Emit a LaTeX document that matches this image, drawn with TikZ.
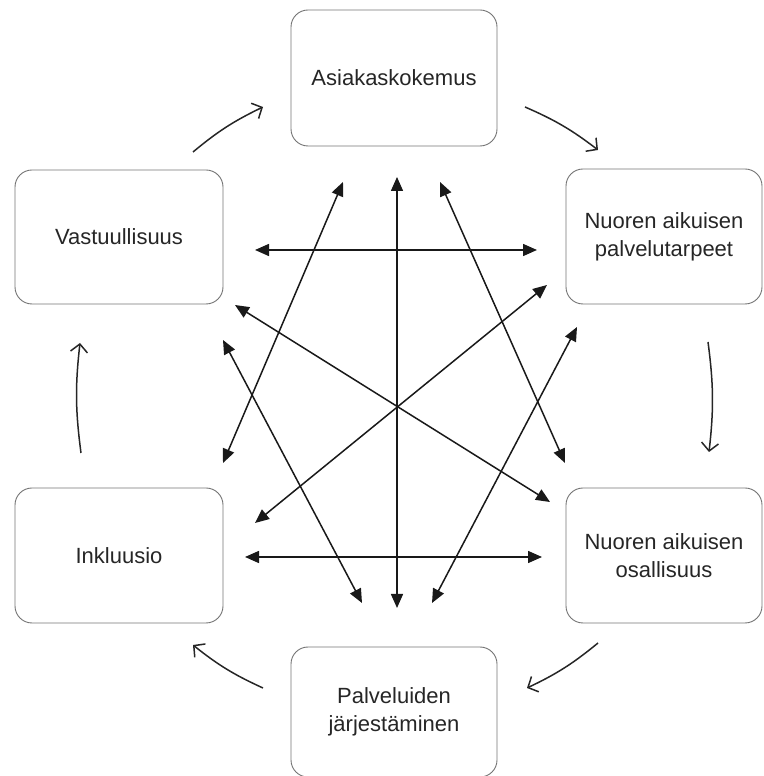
\documentclass[tikz,border=0pt]{standalone}
\usepackage{fontspec}
\setmainfont{Liberation Sans}
\usetikzlibrary{arrows.meta}
\begin{document}
\begin{tikzpicture}[x=1pt,y=1pt,
  boxnode/.style={draw=black!55, line width=0.9pt, rounded corners=17pt,
    align=center, text=black!85, font=\fontsize{22}{28}\selectfont, inner sep=0pt},
  dbl/.style={line width=1.5pt, black!90, {Triangle[length=14pt,width=12pt]}-{Triangle[length=14pt,width=12pt]}},
  cyc/.style={line width=1.5pt, black!85, -{Straight Barb[length=8pt,width=17pt]}, bend left=7}]
\useasboundingbox (0,0) rectangle (763,776);
% boxes
\node[boxnode, minimum width=206pt, minimum height=136pt] (ask) at (394,698) {Asiakaskokemus};
\node[boxnode, minimum width=208pt, minimum height=134pt] (vast) at (119,539) {Vastuullisuus};
\node[boxnode, minimum width=196pt, minimum height=135pt] (npal) at (664,539.5) {Nuoren aikuisen\\palvelutarpeet};
\node[boxnode, minimum width=208pt, minimum height=135pt] (inkl) at (119,220.5) {Inkluusio};
\node[boxnode, minimum width=196pt, minimum height=135pt] (nosa) at (664,220.5) {Nuoren aikuisen\\osallisuus};
\node[boxnode, minimum width=206pt, minimum height=130pt] (palv) at (394,64) {Palveluiden\\järjestäminen};
% endpoints of the double arrows
\coordinate (v1) at (397,599); \coordinate (v2) at (397,168);
\coordinate (h1a) at (255,526); \coordinate (h1b) at (537,526);
\coordinate (h2a) at (245,219); \coordinate (h2b) at (542,219);
\coordinate (d1a) at (235,471); \coordinate (d1b) at (550,274);
\coordinate (d2a) at (547,491); \coordinate (d2b) at (255,253);
\coordinate (s1a) at (343,594); \coordinate (s1b) at (223,313);
\coordinate (s2a) at (440,594); \coordinate (s2b) at (565,313);
\coordinate (s3a) at (223,436); \coordinate (s3b) at (362,173);
\coordinate (s4a) at (577,449); \coordinate (s4b) at (432,173);
\draw[dbl] (v1) -- (v2);
\draw[dbl] (h1a) -- (h1b);
\draw[dbl] (h2a) -- (h2b);
\draw[dbl] (d1a) -- (d1b);
\draw[dbl] (d2a) -- (d2b);
\draw[dbl] (s1a) -- (s1b);
\draw[dbl] (s2a) -- (s2b);
\draw[dbl] (s3a) -- (s3b);
\draw[dbl] (s4a) -- (s4b);
% cycle arrows
\coordinate (c1a) at (193,624); \coordinate (c1b) at (263,669);
\coordinate (c2a) at (525,669); \coordinate (c2b) at (598,626);
\coordinate (c3a) at (708,434); \coordinate (c3b) at (709,324);
\coordinate (c4a) at (598,133); \coordinate (c4b) at (527,88);
\coordinate (c5a) at (263,88); \coordinate (c5b) at (193,131);
\coordinate (c6a) at (81,323); \coordinate (c6b) at (80,433);
\draw[cyc] (c1a) to (c1b);
\draw[cyc] (c2a) to (c2b);
\draw[cyc] (c3a) to (c3b);
\draw[cyc] (c4a) to (c4b);
\draw[cyc] (c5a) to (c5b);
\draw[cyc] (c6a) to (c6b);
\end{tikzpicture}
\end{document}
